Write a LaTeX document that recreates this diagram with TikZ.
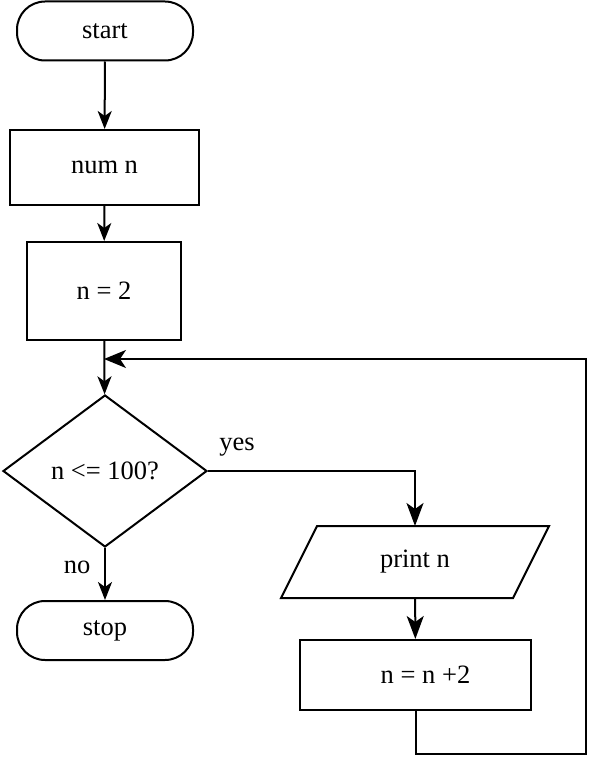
\documentclass[tikz,border=0pt]{standalone}
\usepackage{fontspec}
\setmainfont{Liberation Serif}
\usepackage{tikz}
\usetikzlibrary{shapes.geometric, arrows.meta, positioning, calc}

\begin{document}
\begin{tikzpicture}[x=1pt,y=-1pt,line width=2pt,
    every node/.style={font=\fontsize{26.5}{32}\selectfont},
    term/.style={draw,rectangle,rounded corners=28pt,minimum width=176pt,minimum height=59pt,inner sep=0pt},
    proc/.style={draw,rectangle,inner sep=0pt},
    cond/.style={draw,diamond,minimum width=204pt,minimum height=152pt,inner sep=0pt},
    io/.style={rectangle,minimum width=230pt,minimum height=70pt,inner sep=0pt},
    arr/.style={-{Stealth[length=18pt,width=14pt,inset=5pt]}},
    bigarr/.style={-{Stealth[length=23pt,width=17pt,inset=6pt]}},
    loopar/.style={-{Stealth[length=22pt,width=18pt,inset=6pt]}}]
\useasboundingbox (0,0) rectangle (590,757);

% Draw blocks
\node[term] (start) at (105,31) {start};
\node[proc,minimum width=189pt,minimum height=75pt] (numn) at (104.5,167.5) {num n};
\node[proc,minimum width=154pt,minimum height=98pt] (init) at (104,291) {n = 2};
\node[cond] (test) at (105,471) {n <= 100?};
\node[io] (print) at (415,562) {print n};
\draw ($(print.north west)+(18,0)$) -- ($(print.north east)+(18,0)$)
   -- ($(print.south east)+(-18,0)$) -- ($(print.south west)+(-18,0)$) -- cycle;
\node[proc,minimum width=231pt,minimum height=70pt] (incr) at (415.5,675) {\hspace*{20pt}n = n +2};
\node[term] (stop) at (105,630.5) {stop};

% Helper points for the loop
\coordinate (join) at (104,359);
\coordinate (back) at (586,754);

% Draw arrows
\draw[arr] (start) -- (numn);
\draw[arr] (numn) -- (init);
\draw[arr] (init) -- (test);
\draw[bigarr] (test.east) -| (print.north);
\draw[bigarr] (print) -- (incr);
\draw[arr] (test) -- (stop);
\draw[loopar] (incr.south) |- (back) |- (join);

% Labels
\node (yes) at (237,447) {yes};
\node (no) at (77,567) {no};
\end{tikzpicture}
\end{document}
